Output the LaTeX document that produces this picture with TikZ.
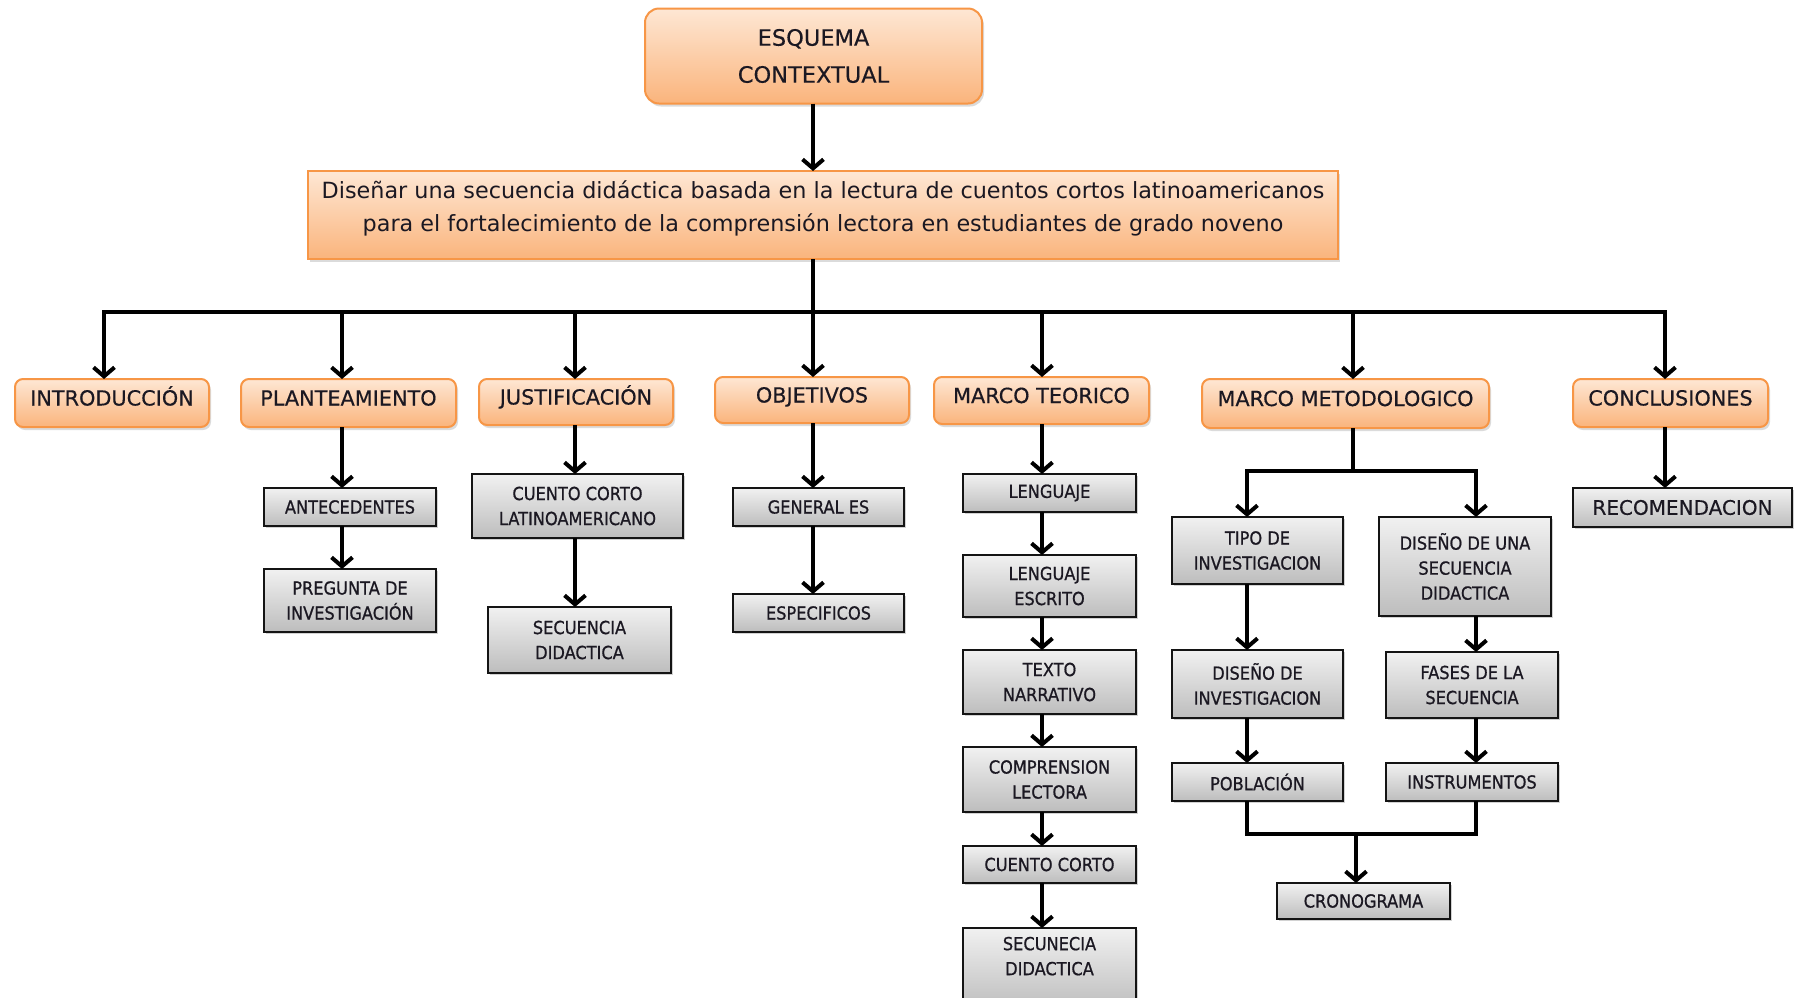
\documentclass[tikz,border=0pt]{standalone}
\usepackage{fontspec}
\setmainfont{DejaVu Sans}
\newfontfamily\condfont[FakeStretch=0.9,FakeBold=0.8]{DejaVu Sans}
\newfontfamily\labfont[FakeBold=0.4]{DejaVu Sans}
\usetikzlibrary{arrows.meta,shadows,calc}
\definecolor{orTop}{HTML}{FEE7D4}
\definecolor{orBot}{HTML}{FAB47C}
\definecolor{orLine}{HTML}{F79646}
\definecolor{grTop}{HTML}{F1F1F1}
\definecolor{grBot}{HTML}{BDBDBD}
\definecolor{txt}{HTML}{1B1822}
\begin{document}
\begin{tikzpicture}[x=1pt,y=-1pt,
  every node/.style={inner sep=0pt,outer sep=0pt},
  obase/.style={draw=orLine,line width=2pt,rounded corners=8pt,top color=orTop,bottom color=orBot,
    text=txt,drop shadow={shadow xshift=2pt,shadow yshift=-3pt,opacity=0.28,fill=gray}},
  obox/.style={obase,font=\labfont\fontsize{20.8}{26}\selectfont,text height=9pt,text depth=4pt},
  gbox/.style={draw=black!92,line width=2.5pt,top color=grTop,bottom color=grBot,text=txt,
    font=\condfont\fontsize{18}{25}\selectfont,align=center,
    drop shadow={shadow xshift=2pt,shadow yshift=-2pt,opacity=0.35,fill=gray}},
  conn/.style={line width=4pt,black},
  arr/.style={conn,-{Straight Barb[length=9pt,width=21pt]}}
]
\useasboundingbox (0,0) rectangle (1798,997);
\clip (0,0) rectangle (1798,997);
\fill[white] (0,0) rectangle (1798,997);

% top
\node[obase,rounded corners=14pt,minimum width=337pt,minimum height=95pt,align=center,
  font=\labfont\fontsize{22.5}{37}\selectfont] (esq) at (813.5,56) {ESQUEMA\\CONTEXTUAL};
\node[obase,sharp corners,minimum width=1030pt,minimum height=88pt] (main) at (823,215) {};
\node[align=center,text=txt,font=\fontsize{22.3}{33}\selectfont] (maintext) at ([yshift=7pt]main.center)
  {Diseñar una secuencia didáctica basada en la lectura de cuentos cortos latinoamericanos\\
   para el fortalecimiento de la comprensión lectora en estudiantes de grado noveno};

% level 1
\node[obox,minimum width=194pt,minimum height=48pt] (intro) at (112,403) {INTRODUCCIÓN};
\node[obox,minimum width=215pt,minimum height=48pt] (plan) at (348.5,403) {PLANTEAMIENTO};
\node[obox,minimum width=194pt,minimum height=46pt] (just) at (576,402) {JUSTIFICACIÓN};
\node[obox,minimum width=194pt,minimum height=46pt] (obj) at (812,400) {OBJETIVOS};
\node[obox,minimum width=215pt,minimum height=47pt] (mt) at (1041.5,400.5) {MARCO TEORICO};
\node[obox,minimum width=287pt,minimum height=49pt] (mm) at (1345.5,403.5) {MARCO METODOLOGICO};
\node[obox,minimum width=195pt,minimum height=48pt] (concl) at (1670.5,403) {CONCLUSIONES};

% planteamiento
\node[gbox,minimum width=172pt,minimum height=38pt] (ante) at (350,507) {ANTECEDENTES};
\node[gbox,minimum width=172pt,minimum height=63pt] (preg) at (350,600.5) {PREGUNTA DE\\INVESTIGACIÓN};
% justificacion
\node[gbox,minimum width=211pt,minimum height=64pt] (cclat) at (577.5,506) {CUENTO CORTO\\LATINOAMERICANO};
\node[gbox,minimum width=183pt,minimum height=66pt] (secd) at (579.5,640) {SECUENCIA\\DIDACTICA};
% objetivos
\node[gbox,minimum width=171pt,minimum height=38pt] (gen) at (818.5,507) {GENERAL ES};
\node[gbox,minimum width=171pt,minimum height=38pt] (esp) at (818.5,613) {ESPECIFICOS};
% marco teorico
\node[gbox,minimum width=173pt,minimum height=38pt] (leng) at (1049.5,493) {LENGUAJE};
\node[gbox,minimum width=173pt,minimum height=62pt] (lesc) at (1049.5,586) {LENGUAJE\\ESCRITO};
\node[gbox,minimum width=173pt,minimum height=64pt] (tnar) at (1049.5,682) {TEXTO\\NARRATIVO};
\node[gbox,minimum width=173pt,minimum height=65pt] (comp) at (1049.5,779.5) {COMPRENSION\\LECTORA};
\node[gbox,minimum width=173pt,minimum height=37pt] (ccor) at (1049.5,864.5) {CUENTO CORTO};
\node[gbox,minimum width=173pt,minimum height=82pt,text depth=26pt] (secn) at (1049.5,969) {SECUNECIA\\DIDACTICA};
% marco metodologico
\node[gbox,minimum width=171pt,minimum height=67pt] (tipo) at (1257.5,550.5) {TIPO DE\\INVESTIGACION};
\node[gbox,minimum width=172pt,minimum height=99pt] (dsd) at (1465,566.5) {DISEÑO DE UNA\\SECUENCIA\\DIDACTICA};
\node[gbox,minimum width=171pt,minimum height=68pt] (dinv) at (1257.5,684) {DISEÑO DE\\INVESTIGACION};
\node[gbox,minimum width=172pt,minimum height=66pt] (fases) at (1472,685) {FASES DE LA\\SECUENCIA};
\node[gbox,minimum width=171pt,minimum height=38pt] (pob) at (1257.5,782) {POBLACIÓN};
\node[gbox,minimum width=172pt,minimum height=38pt] (inst) at (1472,782) {INSTRUMENTOS};
\node[gbox,minimum width=173pt,minimum height=36pt] (cron) at (1363.5,901) {CRONOGRAMA};
% conclusiones
\node[gbox,minimum width=219pt,minimum height=39pt,font=\labfont\fontsize{20}{25}\selectfont] (recom) at (1682.5,507.5) {RECOMENDACION};

% coordinates
\coordinate (busC) at (813,312);
\coordinate (xI) at (104,312);
\coordinate (xP) at (342,312);
\coordinate (xJ) at (575,312);
\coordinate (xT) at (1042,312);
\coordinate (xM) at (1353,312);
\coordinate (xC) at (1665,312);
\coordinate (splitM) at (1353,471);
\coordinate (xL) at (1247,471);
\coordinate (xR) at (1476,471);
\coordinate (mergeC) at (1356,834);

% connectors
\draw[arr] (esq.south -| busC) -- (main.north -| busC);
\draw[conn] (main.south -| busC) -- (busC);
\draw[arr] (busC) -| (intro.north -| xI);
\draw[arr] (busC) -| (concl.north -| xC);
\draw[arr] (xP) -- (plan.north -| xP);
\draw[arr] (xJ) -- (just.north -| xJ);
\draw[arr] (busC) -- (obj.north -| busC);
\draw[arr] (xT) -- (mt.north -| xT);
\draw[arr] (xM) -- (mm.north -| xM);

\draw[arr] (plan.south -| xP) -- (ante.north -| xP);
\draw[arr] (ante.south -| xP) -- (preg.north -| xP);
\draw[arr] (just.south -| xJ) -- (cclat.north -| xJ);
\draw[arr] (cclat.south -| xJ) -- (secd.north -| xJ);
\draw[arr] (obj.south -| busC) -- (gen.north -| busC);
\draw[arr] (gen.south -| busC) -- (esp.north -| busC);

\draw[arr] (mt.south -| xT) -- (leng.north -| xT);
\draw[arr] (leng.south -| xT) -- (lesc.north -| xT);
\draw[arr] (lesc.south -| xT) -- (tnar.north -| xT);
\draw[arr] (tnar.south -| xT) -- (comp.north -| xT);
\draw[arr] (comp.south -| xT) -- (ccor.north -| xT);
\draw[arr] (ccor.south -| xT) -- (secn.north -| xT);

\draw[conn] (mm.south -| xM) -- (splitM);
\draw[arr] (splitM) -| (tipo.north -| xL);
\draw[arr] (splitM) -| (dsd.north -| xR);
\draw[arr] (tipo.south -| xL) -- (dinv.north -| xL);
\draw[arr] (dinv.south -| xL) -- (pob.north -| xL);
\draw[arr] (dsd.south -| xR) -- (fases.north -| xR);
\draw[arr] (fases.south -| xR) -- (inst.north -| xR);
\draw[conn] (pob.south -| xL) |- (mergeC) -| (inst.south -| xR);
\draw[arr] (mergeC) -- (cron.north -| mergeC);

\draw[arr] (concl.south -| xC) -- (recom.north -| xC);
\end{tikzpicture}
\end{document}
